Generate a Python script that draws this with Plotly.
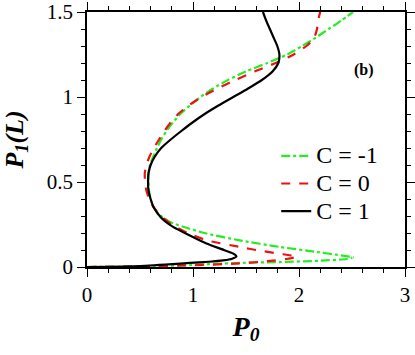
import plotly.graph_objects as go

# C = 1 (black solid): P0 vs P1(L)
c1_p0 = [0, 0.5, 0.97, 1.15, 1.284, 1.37, 1.41, 1.38, 1.27, 1.127, 0.97, 0.812, 0.70, 0.63, 0.60, 0.58, 0.576,
         0.58, 0.60, 0.64, 0.70, 0.79, 0.89, 0.995, 1.11, 1.24, 1.38, 1.52, 1.65, 1.75, 1.805, 1.815,
         1.795, 1.76, 1.725, 1.69, 1.66]
c1_p1 = [0, 0.006, 0.024, 0.031, 0.039, 0.049, 0.062, 0.079, 0.105, 0.138, 0.185, 0.236, 0.29, 0.35, 0.40, 0.45, 0.5,
         0.55, 0.60, 0.65, 0.70, 0.75, 0.80, 0.85, 0.90, 0.95, 1.00, 1.05, 1.10, 1.15, 1.20, 1.25,
         1.30, 1.35, 1.40, 1.45, 1.5]

# C = 0 (red dashed)
c0_p0 = [0, 0.5, 1.0, 1.4, 1.7, 1.88, 1.98, 1.85, 1.62, 1.44, 1.13, 0.95, 0.80, 0.68, 0.60, 0.56, 0.548,
         0.545, 0.56, 0.59, 0.63, 0.68, 0.73, 0.79, 0.86, 0.96, 1.08, 1.23, 1.40, 1.58, 1.78, 1.95, 2.07,
         2.12, 2.15, 2.17, 2.18, 2.20]
c0_p1 = [0, 0.003, 0.01, 0.02, 0.034, 0.047, 0.06, 0.075, 0.097, 0.118, 0.157, 0.20, 0.25, 0.31, 0.38, 0.45, 0.5,
         0.55, 0.60, 0.65, 0.70, 0.75, 0.80, 0.85, 0.90, 0.95, 1.00, 1.05, 1.10, 1.15, 1.20, 1.25, 1.30,
         1.33, 1.36, 1.40, 1.45, 1.5]

# C = -1 (green dash-dot)
cm1_p0 = [0, 0.5, 1.127, 1.44, 1.82, 2.2, 2.45, 2.51, 2.40, 2.15, 1.82, 1.44, 1.127, 0.93, 0.781, 0.68,
          0.63, 0.60, 0.585, 0.58, 0.58, 0.595, 0.625, 0.66, 0.70, 0.75, 0.81, 0.88, 0.97, 1.07, 1.19,
          1.33, 1.50, 1.70, 1.89, 2.03, 2.16, 2.28, 2.40, 2.51]
cm1_p1 = [0, 0.002, 0.016, 0.024, 0.029, 0.037, 0.047, 0.057, 0.068, 0.09, 0.118, 0.157, 0.197, 0.232, 0.265, 0.31,
          0.35, 0.40, 0.45, 0.50, 0.55, 0.60, 0.65, 0.70, 0.75, 0.80, 0.85, 0.90, 0.95, 1.00, 1.05,
          1.10, 1.15, 1.20, 1.25, 1.30, 1.35, 1.40, 1.45, 1.5]

series_names = ["C = -1", "C = 0", "C = 1"]
x_ticks = [0, 1, 2, 3]
y_ticks = [0, 0.5, 1, 1.5]
y_tick_labels = ["0", "0.5", "1", "1.5"]

SERIF = "Liberation Serif"


def big(name):
    return f'<span style="font-size:24px">{name}</span>'


fig = go.Figure()
fig.add_trace(go.Scatter(x=cm1_p0, y=cm1_p1, mode="lines", name=big(series_names[0]),
                         line=dict(color="#22ee22", width=2.2, dash="dashdot", shape="spline", smoothing=0.6)))
fig.add_trace(go.Scatter(x=c0_p0, y=c0_p1, mode="lines", name=big(series_names[1]),
                         line=dict(color="#ee1111", width=2.2, dash="dash", shape="spline", smoothing=0.6)))
fig.add_trace(go.Scatter(x=c1_p0, y=c1_p1, mode="lines", name=big(series_names[2]),
                         line=dict(color="black", width=2.2, shape="spline", smoothing=0.6)))

axis_common = dict(showgrid=False, zeroline=False, showline=True, linecolor="black", linewidth=1.5,
                   ticks="outside", ticklen=8, tickwidth=1.2, tickcolor="black", mirror="allticks",
                   automargin=False, ticklabeloverflow="allow",
                   tickfont=dict(family=SERIF, size=21, color="black"))

fig.update_xaxes(range=[0, 3], tickvals=x_ticks, ticktext=[str(t) for t in x_ticks],
                 minor=dict(dtick=0.2, ticks="outside", ticklen=4, tickcolor="black", tickwidth=1.2),
                 title=dict(text="<b><i>P<sub>0</sub></i></b>", font=dict(family=SERIF, size=28, color="black"),
                            standoff=10),
                 **axis_common)
fig.update_yaxes(range=[0, 1.5], tickvals=y_ticks, ticktext=y_tick_labels,
                 minor=dict(dtick=0.1, ticks="outside", ticklen=4, tickcolor="black", tickwidth=1.2),
                 title=dict(text="<b><i>P<sub>1</sub>(L)</i></b>", font=dict(family=SERIF, size=26, color="black"),
                            standoff=16),
                 **axis_common)

fig.add_annotation(x=0.91, y=0.814, xref="paper", yref="paper", text="<b>(b)</b>", showarrow=False,
                   font=dict(family=SERIF, size=16, color="black"))

fig.update_layout(width=415, height=355, margin=dict(l=87, r=10, t=12, b=88),
                  plot_bgcolor="white", paper_bgcolor="white", showlegend=True,
                  font=dict(family=SERIF),
                  legend=dict(x=0.595, y=0.51, xanchor="left", yanchor="top", bgcolor="rgba(0,0,0,0)",
                              font=dict(family=SERIF, size=19, color="black"), tracegroupgap=0,
                              itemwidth=30))

fig.write_html("out.html", config={"displayModeBar": False},
               post_script="document.body.style.margin='0';document.body.style.overflow='hidden';")
